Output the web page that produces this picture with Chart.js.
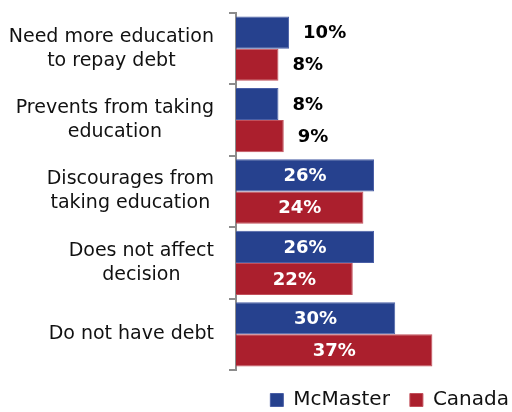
<!DOCTYPE html>
<html>
<head>
<meta charset="utf-8">
<script src="https://cdn.jsdelivr.net/npm/chart.js@4.4.1/dist/chart.umd.min.js"></script>
<style>
  html, body { margin: 0; padding: 0; background: #fff; }
  #wrap { width: 512px; height: 412px; }
</style>
</head>
<body>
<div id="wrap"><canvas id="mycanvas"></canvas></div>
<script>
// categories (each one split into lines) and the two series, in percent
var categories = [
  ["Need more education", "to repay debt"],
  ["Prevents from taking", "education"],
  ["Discourages from", "taking education"],
  ["Does not affect", "decision"],
  ["Do not have debt"]
];
var mcmaster = [10, 8, 26, 26, 30];
var canada = [8, 9, 24, 22, 37];
var seriesNames = ["McMaster", "Canada"];

var BLUE = "#26418e";
var RED = "#ab1f2d";

// category names: lines centred on each other, block pushed to the right
var catLabels = {
  id: "catLabels",
  afterDraw: function(chart) {
    var ctx = chart.ctx;
    var y = chart.scales.y;
    ctx.save();
    ctx.font = "19px 'DejaVu Sans'";
    ctx.fillStyle = "#111";
    ctx.textBaseline = "middle";
    ctx.textAlign = "center";
    var lh = 24;
    var right = 214;
    categories.forEach(function(lines, i) {
      var cy = y.getPixelForValue(i);
      var w = 0;
      lines.forEach(function(l) { w = Math.max(w, ctx.measureText(l).width); });
      var cx = right - w / 2;
      var top = cy - (lines.length - 1) * lh / 2;
      lines.forEach(function(l, k) { ctx.fillText(l, cx, top + k * lh); });
    });
    ctx.restore();
  }
};

// percentage labels: white inside the long bars, black past the short ones
var valueLabels = {
  id: "valueLabels",
  afterDatasetsDraw: function(chart) {
    var ctx = chart.ctx;
    ctx.save();
    ctx.font = "bold 18px 'DejaVu Sans'";
    ctx.textBaseline = "middle";
    chart.data.datasets.forEach(function(ds, di) {
      chart.getDatasetMeta(di).data.forEach(function(bar, i) {
        var v = ds.data[i];
        var txt = v + "%";
        if (v >= 20) {
          ctx.fillStyle = "#fff";
          ctx.textAlign = "center";
          ctx.fillText(txt, (bar.x + bar.base) / 2, bar.y + 1);
        } else {
          ctx.fillStyle = "#000";
          ctx.textAlign = "left";
          ctx.fillText(txt, bar.x + 14, bar.y + 1);
        }
      });
    });
    ctx.restore();
  }
};

// push the legend row up against the right edge
var legendNudge = {
  id: "legendNudge",
  afterLayout: function(chart) {
    chart.legend.left += 17;
    chart.legend.right += 17;
  }
};

var chartdata = {
  labels: categories,
  datasets: [
    {
      label: seriesNames[0],
      backgroundColor: BLUE,
      borderColor: "#4a5fa6",
      borderWidth: 1,
      data: mcmaster
    },
    {
      label: seriesNames[1],
      backgroundColor: RED,
      borderColor: "#c2505b",
      borderWidth: 1,
      data: canada
    }
  ]
};

new Chart(document.getElementById("mycanvas"), {
  type: "bar",
  data: chartdata,
  plugins: [catLabels, valueLabels, legendNudge],
  options: {
    indexAxis: "y",
    responsive: true,
    maintainAspectRatio: false,
    animation: false,
    categoryPercentage: 0.9,
    barPercentage: 1.0,
    layout: { padding: { top: 13, right: 0, left: 0, bottom: 0 } },
    scales: {
      x: {
        display: false,
        min: 0,
        max: 52
      },
      y: {
        afterFit: function(scale) { scale.width = 236; },
        ticks: { display: false },
        grid: {
          offset: true,
          drawOnChartArea: false,
          drawTicks: true,
          tickLength: 7,
          color: "#8c8c8c",
          lineWidth: 2
        },
        border: { color: "#8c8c8c", width: 2 }
      }
    },
    plugins: {
      tooltip: { enabled: false },
      legend: {
        position: "bottom",
        align: "end",
        maxHeight: 42,
        labels: {
          boxWidth: 13,
          boxHeight: 13,
          padding: 20,
          color: "#111",
          font: { family: "'DejaVu Sans'", size: 20 }
        }
      }
    }
  }
});
</script>
</body>
</html>
